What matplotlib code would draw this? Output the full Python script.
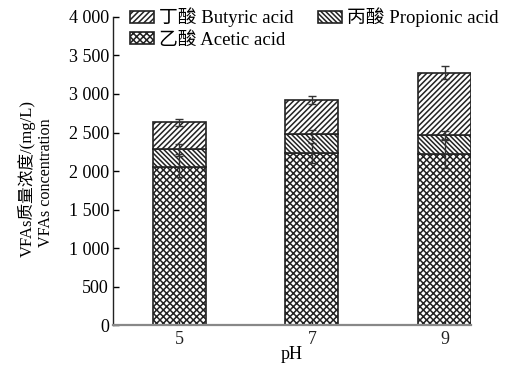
import numpy as np
import matplotlib
matplotlib.use('Agg')
import matplotlib.pyplot as plt

plt.rcParams['font.family'] = ['Liberation Serif', 'Noto Sans CJK SC']
plt.rcParams['hatch.linewidth'] = 1.1

ph = ['5', '7', '9']
acetic = [2056, 2230, 2221]
propionic = [226, 246, 247]
butyric = [351, 446, 809]
acetic_err = [135, 130, 185]
propionic_err = [65, 55, 50]
butyric_err = [45, 50, 85]

yticks = [0, 500, 1000, 1500, 2000, 2500, 3000, 3500, 4000]
ytick_labels = ['0', '500', '1 000', '1 500', '2 000',
                '2 500', '3 000', '3 500', '4 000']

x = np.arange(len(ph))
w = 0.4
ec = '#222222'

fig = plt.figure(figsize=(5.12, 3.67), dpi=100)
ax = fig.add_axes([0.221, 0.1144, 0.699, 0.8393])

ac = np.array(acetic)
pr = np.array(propionic)
bu = np.array(butyric)

# stacked bars: acetic at the bottom, then propionic, butyric on top
b1 = ax.bar(x, ac, w, color='white', edgecolor=ec, hatch='xxxxx', lw=1.2,
            label='乙酸 Acetic acid')
b2 = ax.bar(x, pr, w, bottom=ac, color='white', edgecolor=ec, hatch='\\' * 7,
            lw=1.2, label='丙酸 Propionic acid')
b3 = ax.bar(x, bu, w, bottom=ac + pr, color='white', edgecolor=ec, hatch='//////',
            lw=1.2, label='丁酸 Butyric acid')

ekw = dict(fmt='none', ecolor='#333333', elinewidth=1, capsize=3, capthick=1)
ax.errorbar(x, ac, yerr=acetic_err, **ekw)
ax.errorbar(x, ac + pr, yerr=propionic_err, **ekw)
ax.errorbar(x, ac + pr + bu, yerr=butyric_err, **ekw)

ax.set_xlim(-0.5, 2.2)
ax.set_ylim(0, 4000)
ax.set_xticks(x)
ax.set_xticklabels(ph, fontsize=13)
ax.set_yticks(yticks)
ax.set_yticklabels(ytick_labels, fontsize=13)
ax.tick_params(axis='both', direction='in', length=4, width=1, pad=3)
ax.tick_params(axis='x', length=3, colors='#222222', pad=4)

for s in ['top', 'right']:
    ax.spines[s].set_visible(False)
ax.spines['left'].set_color('#222222')
ax.spines['left'].set_linewidth(1)
ax.spines['bottom'].set_color('#888888')
ax.spines['bottom'].set_linewidth(1.6)

ax.set_xlabel('pH', fontsize=13, labelpad=-1)

fig.text(0.053, 0.30, 'VFAs质量浓度/(mg/L)', rotation=90, fontsize=12,
         ha='center', va='bottom')
fig.text(0.089, 0.327, 'VFAs concentration', rotation=90, fontsize=11.6,
         ha='center', va='bottom')

handles = [b3, b1, b2]
ax.legend(handles, [h.get_label() for h in handles], ncol=2, loc='upper left',
          bbox_to_anchor=(0.025, 1.055), frameon=False, fontsize=13.5,
          handlelength=1.3, handleheight=0.6, handletextpad=0.25,
          columnspacing=1.3, labelspacing=0.25, borderaxespad=0)

fig.savefig('out.png', dpi=100)
